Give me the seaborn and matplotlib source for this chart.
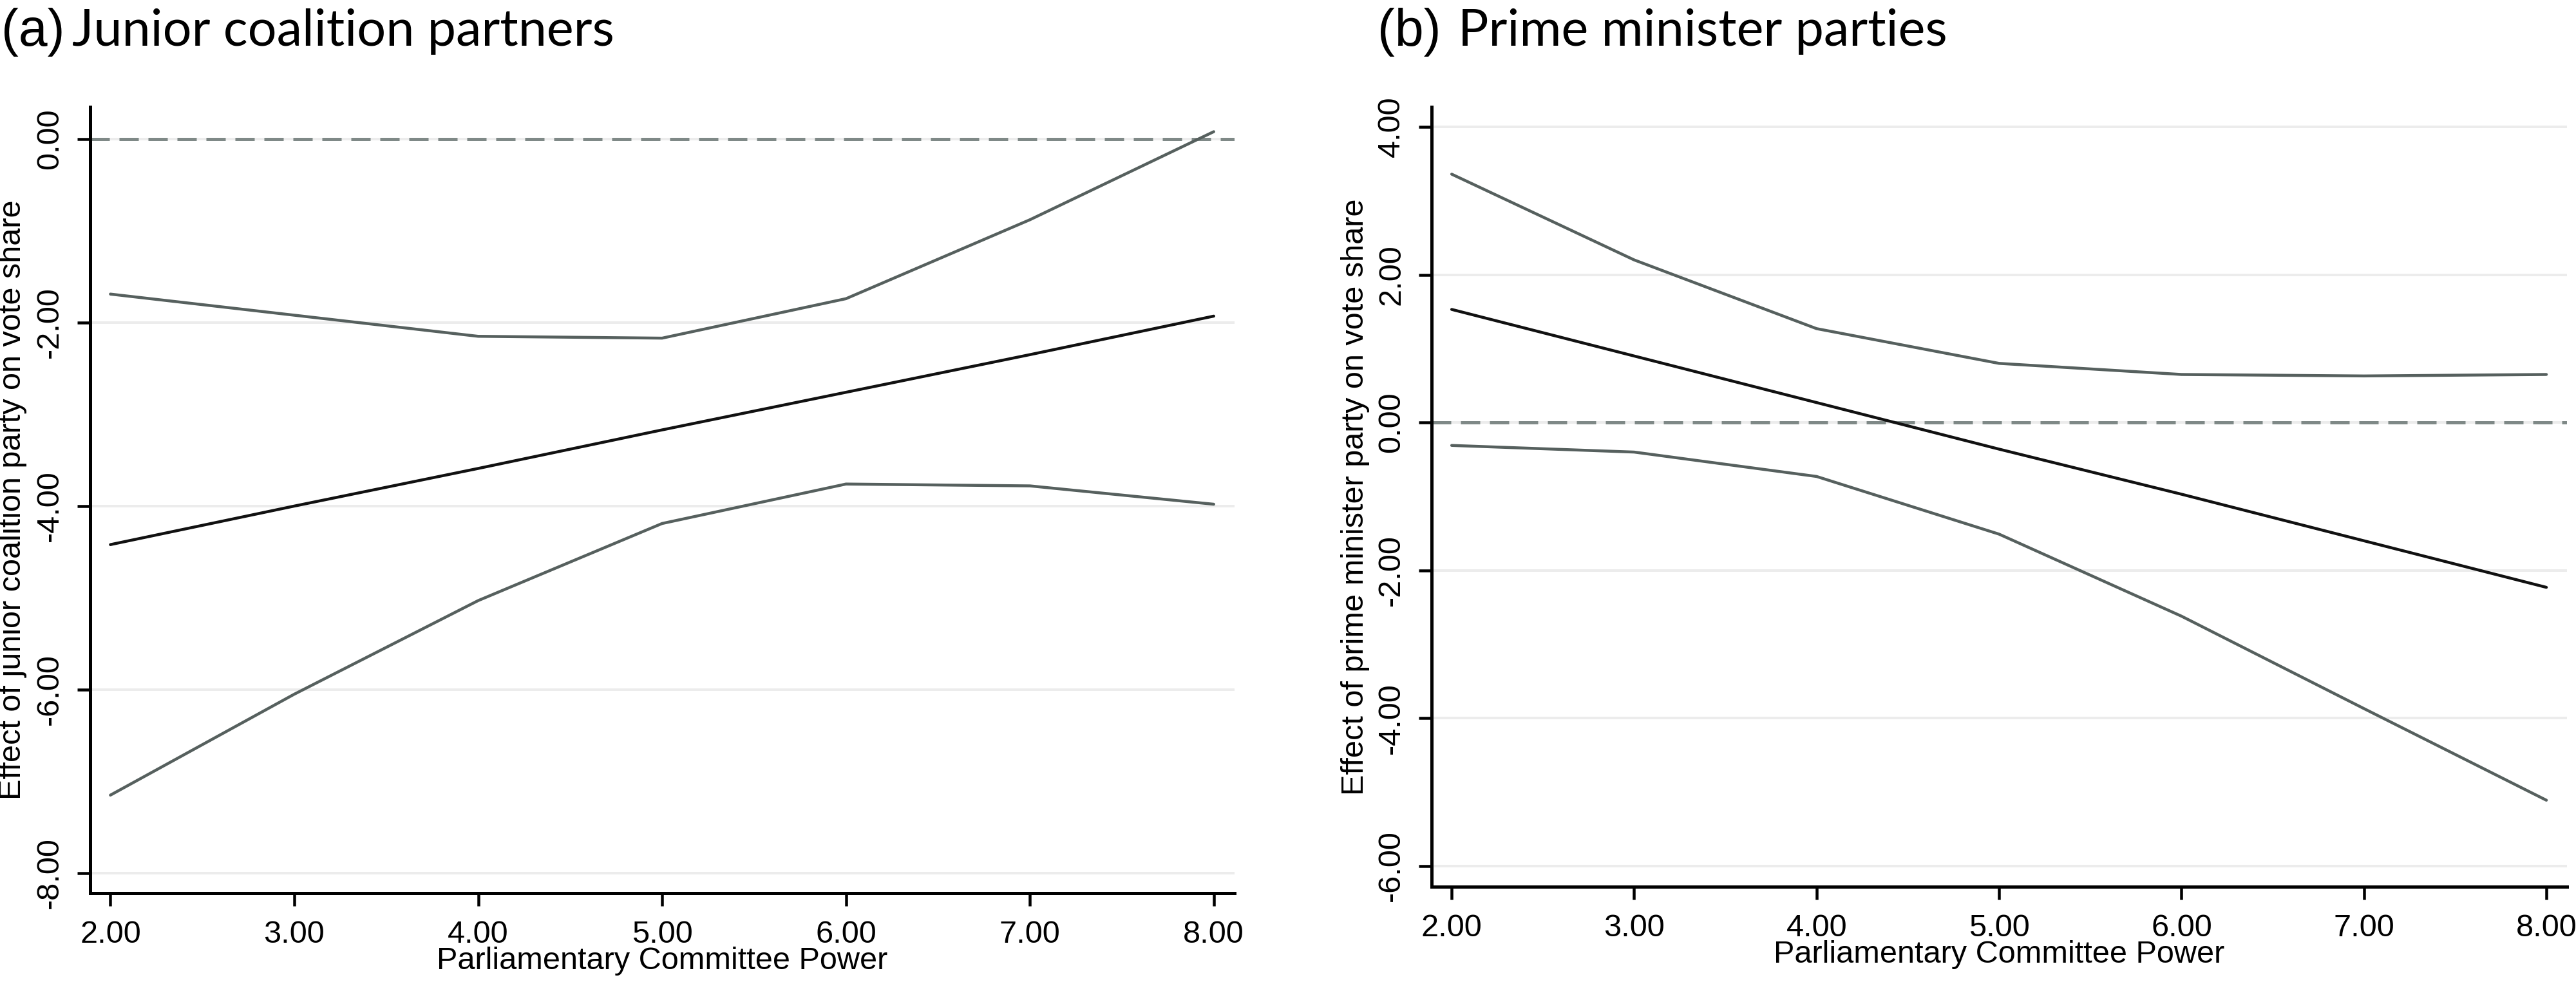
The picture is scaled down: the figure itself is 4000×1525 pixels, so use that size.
import matplotlib
matplotlib.use("Agg")
import matplotlib.pyplot as plt
import seaborn as sns
import pandas as pd

# ---------------- data ----------------
committee_power = [2, 3, 4, 5, 6, 7, 8]
xticks = [2, 3, 4, 5, 6, 7, 8]

# (a) Junior coalition partners
jr_effect = [-4.42, -4.00, -3.59, -3.17, -2.76, -2.35, -1.93]
jr_upper = [-1.69, -1.92, -2.15, -2.17, -1.74, -0.88, 0.08]
jr_lower = [-7.15, -6.05, -5.03, -4.19, -3.76, -3.78, -3.98]
jr_yticks = [0, -2, -4, -6, -8]

# (b) Prime minister parties
pm_effect = [1.53, 0.90, 0.27, -0.36, -0.97, -1.60, -2.23]
pm_upper = [3.36, 2.20, 1.27, 0.80, 0.65, 0.63, 0.65]
pm_lower = [-0.31, -0.40, -0.73, -1.51, -2.62, -3.87, -5.11]
pm_yticks = [4, 2, 0, -2, -4, -6]

xlabel = "Parliamentary Committee Power"
ylabel_a = "Effect of junior coalition party on vote share"
ylabel_b = "Effect of prime minister party on vote share"

# ---------------- style ----------------
sns.set_theme(style="white")
plt.rcParams["font.family"] = ["Liberation Sans", "DejaVu Sans"]
plt.rcParams["text.color"] = "black"

DPI = 100
fig = plt.figure(figsize=(40, 15.25), dpi=DPI)

px = 72.0 / DPI  # points per pixel
CI_COLOR = "#56605e"
MAIN_COLOR = "#111111"
REF_COLOR = "#7f8987"
GRID_COLOR = "#ececec"
FS = 35

def make_panel(rect, eff, up, lo, yticks, ylim, ylabel):
    ax = fig.add_axes(rect)
    df = pd.DataFrame({"x": committee_power, "eff": eff, "up": up, "lo": lo})
    for yv in yticks:
        ax.axhline(yv, color=GRID_COLOR, lw=4 * px, zorder=0)
    ax.axhline(0, color=REF_COLOR, lw=5 * px, dashes=(6.0, 3.0), zorder=1)
    sns.lineplot(data=df, x="x", y="up", ax=ax, color=CI_COLOR, lw=4.5 * px, zorder=3)
    sns.lineplot(data=df, x="x", y="lo", ax=ax, color=CI_COLOR, lw=4.5 * px, zorder=3)
    sns.lineplot(data=df, x="x", y="eff", ax=ax, color=MAIN_COLOR, lw=4.5 * px, zorder=4)
    ax.set_xlim(1.89, 8.113)
    ax.set_ylim(*ylim)
    ax.set_xticks(xticks)
    ax.set_xticklabels([f"{v:.2f}" for v in xticks])
    ax.set_yticks(yticks)
    ax.set_yticklabels([f"{v:.2f}" for v in yticks], rotation=90, va="center")
    for s in ["top", "right"]:
        ax.spines[s].set_visible(False)
    for s in ["left", "bottom"]:
        ax.spines[s].set_color("black")
        ax.spines[s].set_linewidth(5 * px)
    ax.tick_params(axis="both", which="major", length=20 * px, width=4.5 * px,
                   color="black", labelsize=FS, labelcolor="black",
                   direction="out", bottom=True, left=True)
    ax.tick_params(axis="x", pad=22 * px)
    ax.tick_params(axis="y", pad=20 * px)
    ax.set_xlabel(xlabel, fontsize=FS, color="black")
    ax.set_ylabel(ylabel, fontsize=FS, color="black")
    ax.grid(False)
    ax.set_facecolor("white")
    return ax

W, H = 4000.0, 1525.0
# panel a: left 140, right 1917, top 166, bottom 1387
ax_a = make_panel([140 / W, (H - 1387) / H, (1917 - 140) / W, (1387 - 166) / H],
                  jr_effect, jr_upper, jr_lower, jr_yticks, (-8.218, 0.35), ylabel_a)
ax_a.yaxis.set_label_coords(-0.055, 0.5)
ax_a.xaxis.set_label_coords(0.5, -0.068)

# panel b: left 2223, right 3986, top 166, bottom 1377
ax_b = make_panel([2223 / W, (H - 1377) / H, (3986 - 2223) / W, (1377 - 166) / H],
                  pm_effect, pm_upper, pm_lower, pm_yticks, (-6.28, 4.27), ylabel_b)
ax_b.yaxis.set_label_coords(-0.0545, 0.5)
ax_b.xaxis.set_label_coords(0.5, -0.0685)

# titles
base_y = (H - 71) / H
title_font = ["Lato", "DejaVu Sans"]
fig.text(2 / W, base_y, "(a)", fontsize=58, family=["Liberation Sans"],
         color="black", va="baseline")
fig.text(112 / W, base_y, "Junior coalition partners", fontsize=57,
         family=title_font, fontweight="normal", color="black", va="baseline")
fig.text(2139 / W, base_y, "(b)", fontsize=58, family=["Liberation Sans"],
         color="black", va="baseline")
fig.text(2264 / W, base_y, "Prime minister parties", fontsize=57,
         family=title_font, fontweight="normal", color="black", va="baseline")

fig.savefig("out.png", dpi=DPI, facecolor="white")
